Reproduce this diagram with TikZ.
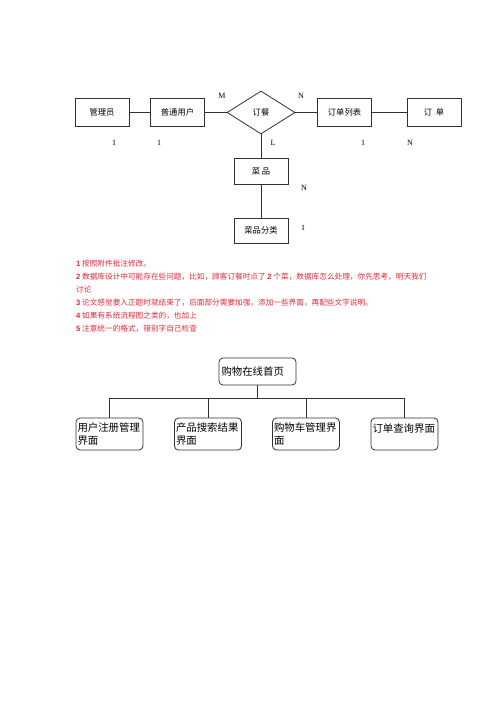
\documentclass[tikz,border=0pt]{standalone}
\usepackage{fontspec}
\setmainfont{Liberation Serif}
\setsansfont{Liberation Sans}
\newfontfamily\cjk{Noto Sans CJK SC}
\usetikzlibrary{shapes.geometric}
\definecolor{ln}{RGB}{50,50,50}
\definecolor{note}{RGB}{228,40,55}
\tikzset{
  erbox/.style={draw=ln, line width=0.8pt, minimum width=54pt, minimum height=28pt, inner sep=0pt, font=\cjk\fontsize{8.3}{10}\selectfont},
  lbl/.style={font=\fontsize{8}{9}\selectfont, inner sep=0pt},
  conn/.style={draw=ln, line width=0.8pt},
  notetext/.style={anchor=west, inner sep=0pt, text=note, font=\cjk\fontsize{7.65}{9}\selectfont},
  pgbox/.style={draw=ln, line width=0.8pt, rounded corners=4pt, minimum width=67pt, minimum height=32pt, text width=64pt, align=left, inner xsep=1.5pt, font=\cjk\fontsize{10.4}{12.5}\selectfont},
}
\newcommand{\nd}[1]{{\sffamily\bfseries #1}}
\begin{document}
\begin{tikzpicture}[x=1pt,y=-1pt]
\useasboundingbox[fill=white] (0,0) rectangle (500,708);
% ER diagram
\node[erbox] (adm) at (102,112.5) {管理员};
\node[erbox] (usr) at (177.5,112.5) {普通用户};
\node[draw=ln, line width=0.8pt, diamond, aspect=1.58, minimum width=68pt, minimum height=43pt, inner sep=0pt, font=\cjk\fontsize{8.3}{10}\selectfont] (ord) at (261,112.5) {订餐};
\node[erbox] (olist) at (344.5,112.5) {订单列表};
\node[erbox] (order) at (434,112.5) {订\ \ 单};
\node[erbox, minimum height=26pt] (dish) at (261,171) {菜\ 品};
\node[erbox, minimum height=25pt] (cat) at (261,230.5) {菜品分类};
\draw[conn] (adm.east) -- (usr.west);
\draw[conn] (usr.east) -- (ord.west);
\draw[conn] (ord.east) -- (olist.west);
\draw[conn] (olist.east) -- (order.west);
\draw[conn] (ord.south) -- (dish.north);
\draw[conn] (dish.south) -- (cat.north);
\node[lbl] (m1) at (222,96) {M};
\node[lbl] (n1) at (301,96) {N};
\node[lbl] (c1) at (114,143) {1};
\node[lbl] (c2) at (159,143) {1};
\node[lbl] (l1) at (273,143) {L};
\node[lbl] (c3) at (363,143) {1};
\node[lbl] (n2) at (410,143) {N};
\node[lbl] (n3) at (304,188) {N};
\node[lbl] (c4) at (303,228) {1};
% notes
\node[notetext] (t1) at (76,264) {\nd{1} 按照附件批注修改。};
\node[notetext] (t2) at (76,277) {\nd{2} 数据库设计中可能存在些问题，比如，顾客订餐时点了 \nd{2} 个菜，数据库怎么处理，你先思考，明天我们};
\node[notetext] (t2b) at (76,290) {讨论};
\node[notetext] (t3) at (76,303) {\nd{3} 论文感觉要入正题时就结束了，后面部分需要加强，添加一些界面，再配些文字说明。};
\node[notetext] (t4) at (76,316) {\nd{4} 如果有系统流程图之类的，也加上};
\node[notetext] (t5) at (76,329) {\nd{5} 注意统一的格式，错别字自己检查};
% page tree
\node[pgbox, minimum width=77pt, minimum height=27pt, text width=72pt] (home) at (257.5,371.5) {购物在线首页};
\node[pgbox] (p1) at (109.5,434) {用户注册管理\\界面};
\node[pgbox] (p2) at (208,434) {产品搜索结果\\界面};
\node[pgbox] (p3) at (306,434) {购物车管理界\\面};
\node[pgbox] (p4) at (404.5,434) {订单查询界面\\\mbox{}};
\path (home.south) ++(0,13) coordinate (bus);
\draw[conn] (home.south) -- (bus);
\draw[conn] (bus) -| (p1.north);
\draw[conn] (bus) -| (p4.north);
\draw[conn] (p2.north |- bus) -- (p2.north);
\draw[conn] (p3.north |- bus) -- (p3.north);
\end{tikzpicture}
\end{document}
